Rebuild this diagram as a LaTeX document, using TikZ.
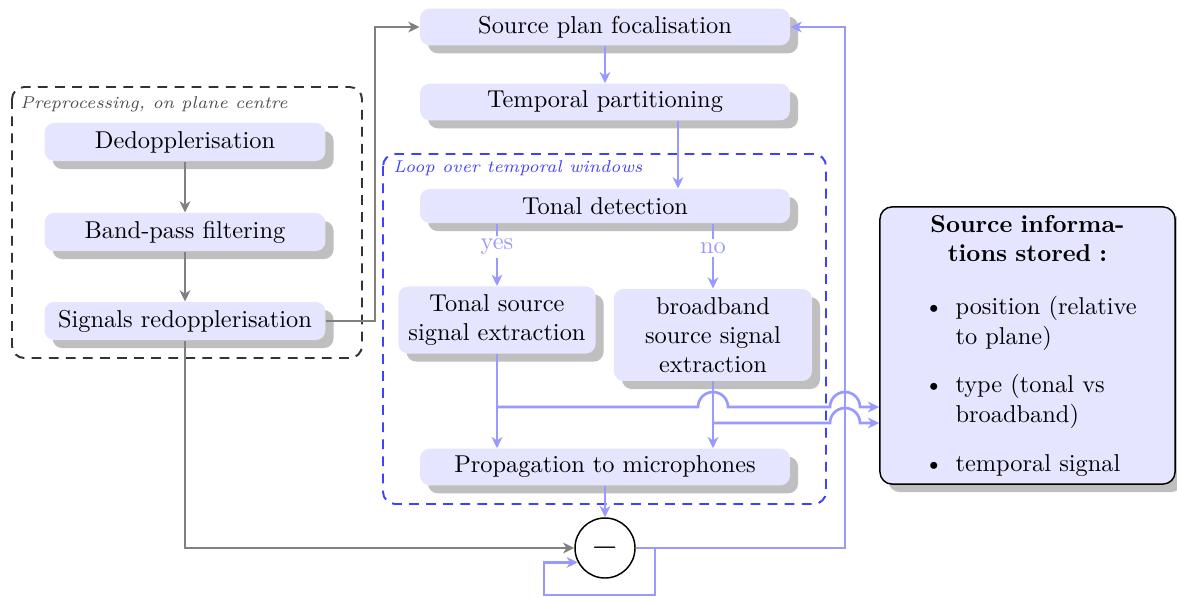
\documentclass[tikz,border=0pt]{standalone}
\usetikzlibrary{shadows,arrows.meta,calc}
\begin{document}
\begin{tikzpicture}[x=0.41pt,y=-0.41pt,
  shad/.style={drop shadow={shadow xshift=3.3pt,shadow yshift=-3.3pt,fill=black!25,opacity=1}},
  box/.style={rectangle,rounded corners=4pt,fill=blue!10,draw=none,shad,minimum height=15pt,inner sep=2pt,align=center},
  widebox/.style={box,minimum width=151.7pt},
  prebox/.style={box,minimum width=115.2pt,minimum height=15.6pt},
  infobox/.style={rectangle,rounded corners=5pt,fill=blue!10,draw=black,line width=0.6pt,shad,text width=109pt,inner xsep=6pt,inner ysep=3.3pt},
  tip/.style={-{Stealth[length=4.6pt,width=4.4pt,inset=1.4pt]}},
  grayarrow/.style={draw=black!50,line width=1pt,tip},
  bluelink/.style={draw=blue!40,line width=1.1pt},
  bluearrow/.style={bluelink,tip},
  lbl/.style={fill=white,inner sep=1pt,text=blue!40},
  grp/.style={thick,dash pattern=on 4pt off 3pt,rounded corners=5pt}
]
\useasboundingbox (0,0) rectangle (1177,597);

% group frames
\draw[grp,black!80] (12,87) rectangle (362,358);
\node[anchor=base west,font=\scriptsize\itshape,text=black!70,inner sep=0pt] (prelbl) at (20,108) {Preprocessing, on plane centre};
\draw[grp,blue!75] (383,154) rectangle (826,504);
\node[anchor=base west,font=\scriptsize\itshape,text=blue!75,inner sep=0pt] (looplbl) at (393,172) {Loop over temporal windows};

% preprocessing
\node[prebox] (dd) at (185,142) {Dedopplerisation};
\node[prebox] (bp) at (185,232) {Band-pass filtering};
\node[prebox] (sr) at (185,321) {Signals redopplerisation};

% main chain
\node[widebox] (spf) at (605,27) {Source plan focalisation};
\node[widebox] (tp) at (605,102) {Temporal partitioning};
\node[widebox,minimum height=14pt] (td) at (605,206) {Tonal detection};
\node[box,minimum width=80.8pt,minimum height=27.5pt] (ts) at (497,320) {Tonal source\\signal extraction};
\node[box,minimum width=81.2pt,minimum height=37.7pt] (bb) at (713,335) {broadband\\source signal\\extraction};
\node[widebox] (prop) at (605,467) {Propagation to microphones};
\node[circle,draw=black,line width=0.6pt,fill=white,minimum size=24.6pt,inner sep=0pt] (sum) at (605,548) {\Large$-$};

% info box
\node[infobox] (info) at (1027.5,345.5) {{\centering\textbf{Source informa-\\tions stored :}\par}
\begin{itemize}\raggedright
\item position (relative\newline to plane)
\item type (tonal vs\newline broadband)
\item temporal signal
\end{itemize}};

% coordinates
\coordinate (g1) at (375,321);
\coordinate (tdx) at (678,0);
\coordinate (fb) at (845,548);
\coordinate (j1) at (497,407);
\coordinate (j2) at (713,423);
\coordinate (lp1) at (655,595);
\coordinate (lp2) at (544,595);

% gray connectors
\draw[grayarrow] (dd) -- (bp);
\draw[grayarrow] (bp) -- (sr);
\draw[grayarrow] (sr.east) -- (g1) |- (spf.west);
\draw[grayarrow] (sr.south) |- (sum.west);

% blue connectors
\draw[bluearrow] (spf) -- (tp);
\draw[bluearrow] (tp.south -| tdx) -- (td.north -| tdx);
\node[lbl] (yes) at (497,247) {yes};
\node[lbl] (no) at (713,248) {no};
\draw[bluelink] (td.south -| ts.north) -- (yes);
\draw[bluearrow] (yes) -- (ts.north);
\draw[bluelink] (td.south -| bb.north) -- (no);
\draw[bluearrow] (no) -- (bb.north);
\draw[bluearrow] (ts.south) -- (prop.north -| ts.south);
\draw[bluearrow] (bb.south) -- (prop.north -| bb.south);
\draw[bluearrow] (prop.south) -- (sum.north);
\draw[bluearrow] (j1) -- ($(j1 -| bb.south)-(15,0)$) arc[start angle=180,end angle=0,radius=6.15pt]
   -- ($(j1 -| fb)-(15,0)$) arc[start angle=180,end angle=0,radius=6.15pt] -- (info.west |- j1);
\draw[bluearrow] (j2) -- ($(j2 -| fb)-(15,0)$) arc[start angle=180,end angle=0,radius=6.15pt] -- (info.west |- j2);
\draw[bluearrow] (sum.east) -- (fb) |- (spf.east);
\draw[bluearrow] (sum.east -| lp1) -- (lp1) -- (lp2) -- (lp2 |- sum.208) -- (sum.208);
\end{tikzpicture}
\end{document}
